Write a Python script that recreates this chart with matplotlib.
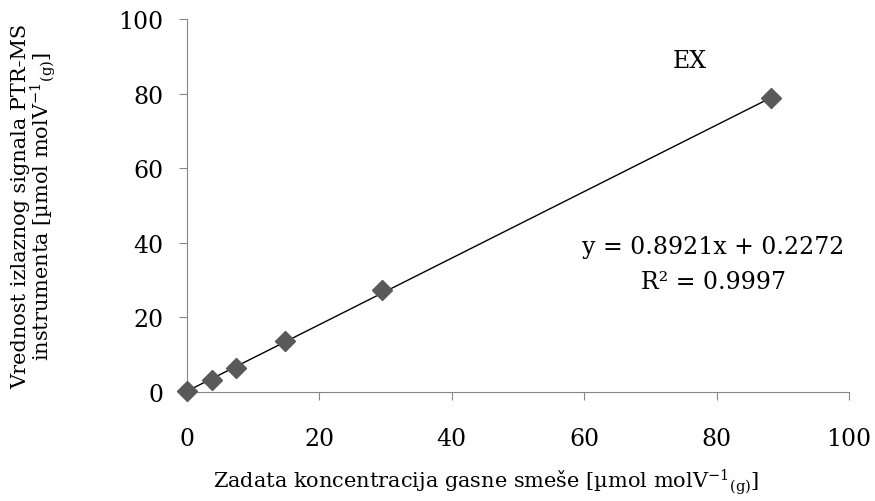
import matplotlib

matplotlib.use("Agg")
import matplotlib.pyplot as plt
import numpy as np

# Calibration points
conc_set = [0.0, 3.8, 7.4, 14.8, 29.5, 88.2]
signal = [0.4, 3.2, 6.4, 13.7, 27.3, 78.8]

# Trendline as printed on the chart
slope = 0.8921
intercept = 0.2272
r2 = 0.9997

x_ticks = [0, 20, 40, 60, 80, 100]
y_ticks = [0, 20, 40, 60, 80, 100]

AXIS = "#868686"
MARK = "#595959"

plt.rcParams["font.family"] = ["DejaVu Serif"]
plt.rcParams["mathtext.fontset"] = "dejavuserif"

fig = plt.figure(figsize=(8.75, 5.02), dpi=100)
ax = fig.add_axes([0.2137, 0.2171, 0.7566, 0.7429])

xs = np.array([conc_set[0], conc_set[-1]])
ax.plot(xs, slope * xs + intercept, color="black", lw=1.0, zorder=2)
ax.plot(conc_set, signal, linestyle="none", marker="D", markersize=10,
        color=MARK, markeredgecolor=MARK, zorder=3, clip_on=False)

ax.set_xlim(0, 100)
ax.set_ylim(0, 100)
ax.set_xticks(x_ticks)
ax.set_yticks(y_ticks)
ax.tick_params(direction="out", length=6, color=AXIS, labelsize=17)
ax.tick_params(axis="x", pad=19)
ax.tick_params(axis="y", pad=11)

for side in ("top", "right"):
    ax.spines[side].set_visible(False)
for side in ("left", "bottom"):
    ax.spines[side].set_color(AXIS)

unit = r"[µmol molV$^{\mathrm{-1}}$$_{\mathrm{(g)}}$]"
ax.set_xlabel("Zadata koncentracija gasne smeše " + unit, fontsize=15)
ax.set_ylabel("Vrednost izlaznog signala PTR-MS\ninstrumenta " + unit,
              fontsize=15, linespacing=0.9)
ax.xaxis.set_label_coords(0.452, -0.2)
ax.yaxis.set_label_coords(-0.195, 0.5)

ax.text(76, 89, "EX", fontsize=17, ha="center", va="center")
ax.text(79.5, 39.1, f"y = {slope:.4f}x + {intercept:.4f}",
        fontsize=17, ha="center", va="center")
ax.text(79.5, 29.5, f"R² = {r2:.4f}",
        fontsize=17, ha="center", va="center")

fig.savefig("out.png", dpi=100)
